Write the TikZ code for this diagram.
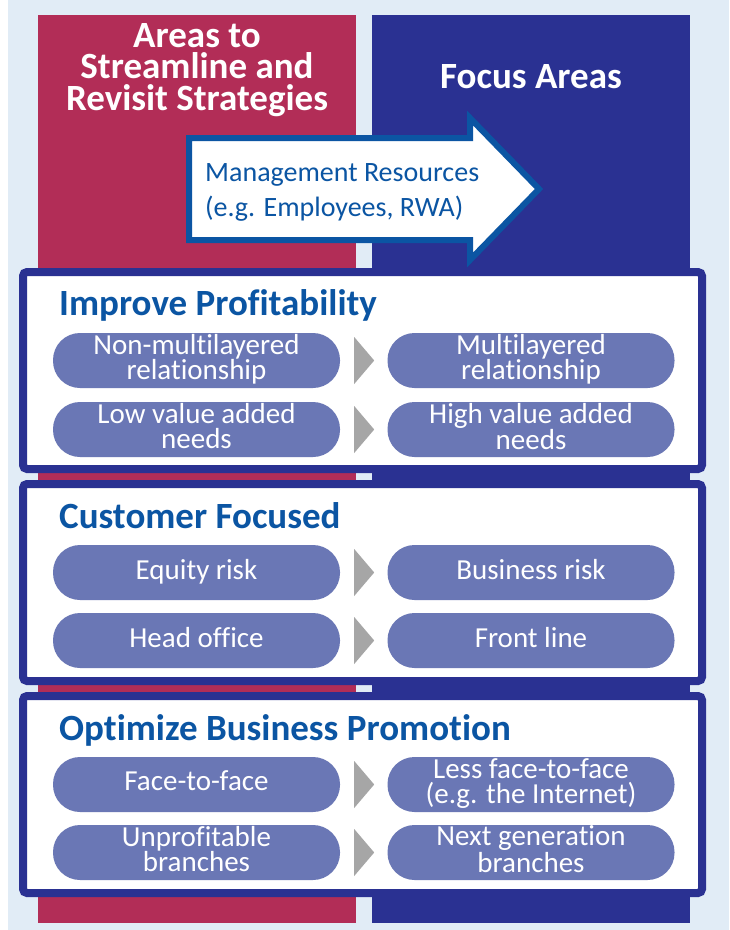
\documentclass[tikz,border=0pt]{standalone}
\usepackage{fontspec}
\setmainfont{Carlito}[Ligatures={NoCommon}]
\usetikzlibrary{positioning}

\definecolor{bgblue}{HTML}{E1ECF6}
\definecolor{crimson}{HTML}{B22D57}
\definecolor{navy}{HTML}{2A3192}
\definecolor{midblue}{HTML}{0B55A3}
\definecolor{pillblue}{HTML}{6A77B5}
\definecolor{chevgray}{HTML}{A6A6A6}
\newcommand\pillstrut{\rule[-7pt]{0pt}{22pt}}

\begin{document}
\begin{tikzpicture}[x=1pt,y=-1pt,
	column/.style={fill=#1, minimum width=318pt, minimum height=908pt, inner sep=0pt},
	head/.style={text=white, font=\bfseries\fontsize{37}{31.5}\selectfont, align=center, inner sep=0pt, anchor=base},
	panel/.style={draw=navy, line width=8pt, fill=white, rounded corners=4pt, minimum width=679pt, minimum height=197pt, inner sep=0pt},
	ptitle/.style={text=midblue, font=\bfseries\fontsize{37}{40}\selectfont, anchor=base west, inner sep=0pt},
	pill/.style={fill=pillblue, text=white, rounded corners=27pt, minimum width=287pt, minimum height=55pt, inner sep=0pt, align=center, font=\fontsize{29}{24.5}\selectfont, execute at begin node=\pillstrut, execute at end node=\pillstrut},
	chev/.style={fill=chevgray}]
					\useasboundingbox (0,0) rectangle (729,930);
					\fill[bgblue] (8,0) rectangle (729,930);
					
					% the two columns
					\node[column=crimson] (colL) at (197,469) {};
					\node[column=navy] (colR) at (531,469) {};
					\node[head] (hdrL) at (197,110) {Areas to\\Streamline and\\Revisit Strategies};
					\node[head] (hdrR) at (531,88) {Focus Areas};
					
					% resources arrow
					\draw[line width=6pt, draw=midblue, fill=white, line join=miter] (189,138) -- (470,138) -- (470,118) -- (539,189) -- (470,260) -- (470,240) -- (189,240) -- cycle;
					\node[anchor=west, align=left, inner sep=0pt, text=midblue, font=\fontsize{28}{35}\selectfont] (res) at (205,192.5) {Management Resources\\(e.g. Employees, RWA)};
					
					% panels
					\node[panel] (prof) at (362.5,370.5) {};
					\node[panel] (cust) at (362.5,582.5) {};
					\node[panel] (prom) at (362.5,794.5) {};
					\node[ptitle] (tprof) at (59,315) {Improve Profitability};
					\node[ptitle] (tcust) at (59,528) {Customer Focused};
					\node[ptitle] (tprom) at (59,740) {Optimize Business Promotion};
					
					\node[pill] (L1a) at (196.5,360.5) {Non-multilayered\\relationship};
					\node[pill] (R1a) at (531,360.5) {Multilayered\\relationship};
					\node[pill] (L1b) at (196.5,429.5) {Low value added\\needs};
					\node[pill] (R1b) at (531,429.5) {High value added\\needs};
					
					\node[pill] (L2a) at (196.5,572.5) {Equity risk};
					\node[pill] (R2a) at (531,572.5) {Business risk};
					\node[pill] (L2b) at (196.5,640.5) {Head office};
					\node[pill] (R2b) at (531,640.5) {Front line};
					
					\node[pill] (L3a) at (196.5,784.5) {Face-to-face};
					\node[pill] (R3a) at (531,784.5) {Less face-to-face\\(e.g. the Internet)};
					\node[pill] (L3b) at (196.5,852.5) {Unprofitable\\branches};
					\node[pill] (R3b) at (531,852.5) {Next generation\\branches};
					
					\foreach \a in {1a,1b,2a,2b,3a,3b}
						\fill[chev] ([xshift=14pt,yshift=23.5pt]L\a.east) -- ([xshift=34pt]L\a.east) -- ([xshift=14pt,yshift=-23.5pt]L\a.east) -- cycle;
				
	\end{tikzpicture}
\end{document}
